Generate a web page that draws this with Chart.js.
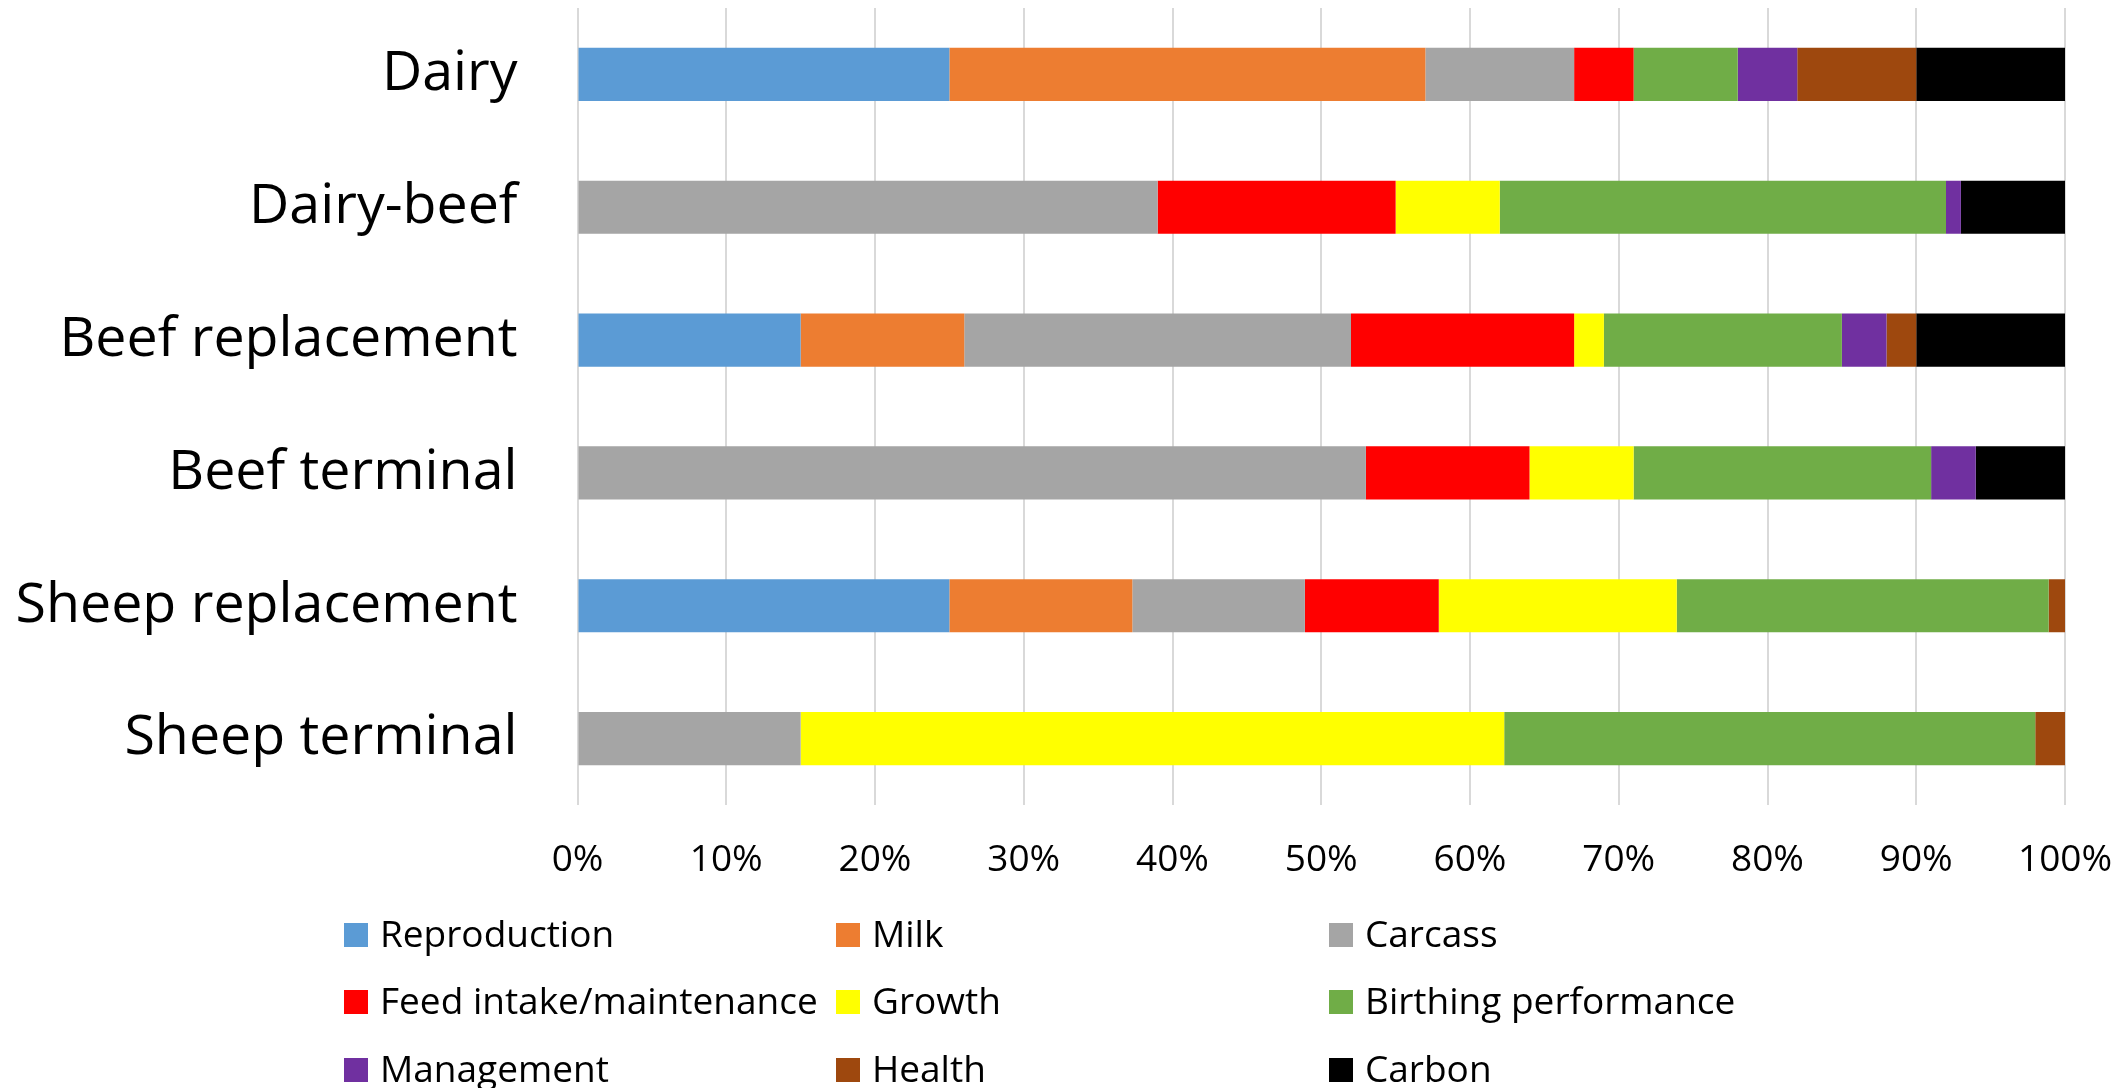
<!DOCTYPE html>
<html>
<head>
<meta charset="utf-8">
<script src="https://cdn.jsdelivr.net/npm/chart.js@4/dist/chart.umd.min.js"></script>
<style>
  html, body { margin: 0; padding: 0; background: #ffffff; }
  #wrap { width: 2126px; height: 1088px; }
</style>
</head>
<body>
<div id="wrap"><canvas id="c" width="2126" height="1088"></canvas></div>
<script>
// Categories (top to bottom) and the share of each trait group, in percent
const categories = ['Dairy', 'Dairy-beef', 'Beef replacement', 'Beef terminal', 'Sheep replacement', 'Sheep terminal'];

const reproduction = [25, 0, 15, 0, 25, 0];
const milk         = [32, 0, 11, 0, 12.3, 0];
const carcass      = [10, 39, 26, 53, 11.6, 15];
const feedIntake   = [4, 16, 15, 11, 9, 0];
const growth       = [0, 7, 2, 7, 16, 47.3];
const birthing     = [7, 30, 16, 20, 25, 35.7];
const management   = [4, 1, 3, 3, 0, 0];
const health       = [8, 0, 2, 0, 1.1, 2];
const carbon       = [10, 7, 10, 6, 0, 0];

const xTicks = [0, 10, 20, 30, 40, 50, 60, 70, 80, 90, 100];

const seriesNames  = ['Reproduction', 'Milk', 'Carcass', 'Feed intake/maintenance', 'Growth',
                      'Birthing performance', 'Management', 'Health', 'Carbon'];
const seriesValues = [reproduction, milk, carcass, feedIntake, growth, birthing, management, health, carbon];
const seriesColors = ['#5B9BD5', '#ED7D31', '#A5A5A5', '#FF0000', '#FFFF00',
                      '#70AD47', '#7030A0', '#9E480E', '#000000'];

const FONT = "'Open Sans', 'Noto Sans', sans-serif";

const datasets = seriesNames.map((name, i) => ({
  label: name,
  data: seriesValues[i],
  backgroundColor: seriesColors[i],
  borderWidth: 0,
  categoryPercentage: 0.4,
  barPercentage: 1.0
}));

// Three-column legend laid out beneath the axis
const gridLegend = {
  id: 'gridLegend',
  afterDraw(chart) {
    const ctx = chart.ctx;
    const colX = [344, 836, 1329];
    const rowY = [935, 1002, 1070];
    const box = 24;
    ctx.save();
    ctx.font = '37px ' + FONT;
    ctx.textBaseline = 'middle';
    ctx.textAlign = 'left';
    chart.data.datasets.forEach((ds, i) => {
      const col = i % 3, row = Math.floor(i / 3);
      const x = colX[col], y = rowY[row];
      ctx.fillStyle = ds.backgroundColor;
      ctx.fillRect(x, y - box / 2, box, box);
      ctx.fillStyle = '#000000';
      ctx.fillText(ds.label, x + 36, y + 1);
    });
    ctx.restore();
  }
};

new Chart(document.getElementById('c'), {
  type: 'bar',
  data: { labels: categories, datasets },
  plugins: [gridLegend],
  options: {
    indexAxis: 'y',
    responsive: false,
    animation: false,
    devicePixelRatio: 1,
    layout: { padding: { top: 8, right: 61, bottom: 0, left: 0 } },
    plugins: {
      legend: { display: false },
      tooltip: { enabled: false }
    },
    scales: {
      x: {
        stacked: true,
        min: 0,
        max: 100,
        afterBuildTicks(scale) { scale.ticks = xTicks.map(v => ({ value: v })); },
        afterFit(scale) {
          scale.height = 283;
          scale.paddingLeft = 0;
          scale.paddingRight = 0;
        },
        grid: { color: '#D9D9D9', lineWidth: 2, drawTicks: false },
        border: { display: false },
        ticks: {
          padding: 33,
          color: '#000000',
          font: { family: FONT, size: 37 },
          maxRotation: 0,
          callback: v => v + '%'
        }
      },
      y: {
        stacked: true,
        afterFit(scale) {
          scale.width = 577.5;
          scale.paddingTop = 0;
          scale.paddingBottom = 0;
        },
        grid: { display: false, drawTicks: false },
        border: { display: false },
        ticks: {
          padding: 60,
          color: '#000000',
          font: { family: FONT, size: 55.5 }
        }
      }
    }
  }
});
</script>
</body>
</html>
